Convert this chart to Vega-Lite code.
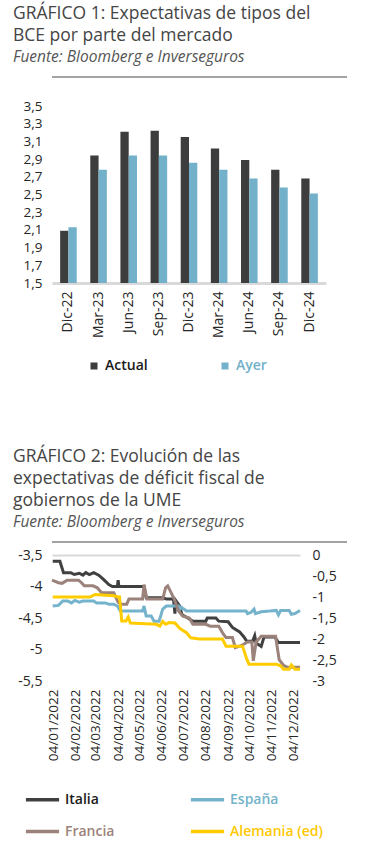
{
  "$schema": "https://vega.github.io/schema/vega-lite/v6.json",
  "padding": {"left": 2, "top": 5, "right": 0, "bottom": 0},
  "background": "white",
  "config": {
    "font": "Open Sans",
    "view": {"stroke": null},
    "axis": {"labelColor": "#262626", "labelFont": "Open Sans", "labelFontSize": 13.5},
    "legend": {"labelFont": "Open Sans"},
    "title": {"font": "Open Sans", "color": "#454545", "fontSize": 17.5, "fontWeight": 500, "lineHeight": 22, "anchor": "start", "subtitleFont": "Open Sans", "subtitleFontSize": 15.5, "subtitleFontStyle": "italic", "subtitleColor": "#555555", "subtitlePadding": 5}
  },
  "spacing": 75,
  "resolve": {"scale": {"color": "independent", "x": "independent", "y": "independent"}, "legend": {"color": "independent"}},
  "vconcat": [
    {
      "spacing": 21,
      "resolve": {"scale": {"color": "independent", "x": "independent", "y": "independent"}},
      "vconcat": [
        {
          "title": {"text": ["GRÁFICO 1: Expectativas de tipos del", "BCE por parte del mercado"], "subtitle": "Fuente: Bloomberg e Inverseguros", "dx": -39, "offset": 11},
          "width": 295,
          "height": 2,
          "data": {"values": [{"desde": 0, "hasta": 1}]},
          "mark": {"type": "rect", "color": "#a3a3a3"},
          "encoding": {
            "x": {"field": "desde", "type": "quantitative", "scale": {"domain": [0, 1]}, "axis": null},
            "x2": {"field": "hasta"}
          }
        },
        {
          "width": 274,
          "height": 177,
          "data": {"values": [
            {"periodo": "Dic-22", "serie": "Actual", "valor": 2.09},
            {"periodo": "Dic-22", "serie": "Ayer", "valor": 2.13},
            {"periodo": "Mar-23", "serie": "Actual", "valor": 2.94},
            {"periodo": "Mar-23", "serie": "Ayer", "valor": 2.78},
            {"periodo": "Jun-23", "serie": "Actual", "valor": 3.21},
            {"periodo": "Jun-23", "serie": "Ayer", "valor": 2.94},
            {"periodo": "Sep-23", "serie": "Actual", "valor": 3.22},
            {"periodo": "Sep-23", "serie": "Ayer", "valor": 2.94},
            {"periodo": "Dic-23", "serie": "Actual", "valor": 3.15},
            {"periodo": "Dic-23", "serie": "Ayer", "valor": 2.86},
            {"periodo": "Mar-24", "serie": "Actual", "valor": 3.02},
            {"periodo": "Mar-24", "serie": "Ayer", "valor": 2.78},
            {"periodo": "Jun-24", "serie": "Actual", "valor": 2.89},
            {"periodo": "Jun-24", "serie": "Ayer", "valor": 2.68},
            {"periodo": "Sep-24", "serie": "Actual", "valor": 2.78},
            {"periodo": "Sep-24", "serie": "Ayer", "valor": 2.58},
            {"periodo": "Dic-24", "serie": "Actual", "valor": 2.68},
            {"periodo": "Dic-24", "serie": "Ayer", "valor": 2.51}
          ]},
          "mark": {"type": "bar"},
          "encoding": {
            "x": {"field": "periodo", "type": "nominal", "sort": ["Dic-22", "Mar-23", "Jun-23", "Sep-23", "Dic-23", "Mar-24", "Jun-24", "Sep-24", "Dic-24"], "scale": {"paddingInner": 0.45, "paddingOuter": 0.27}, "axis": {"title": null, "labelAngle": -90, "ticks": false, "domainColor": "#d9d9d9", "domainWidth": 3, "labelPadding": 8, "labelFontSize": 14}},
            "xOffset": {"field": "serie", "type": "nominal", "sort": ["Actual", "Ayer"]},
            "y": {"field": "valor", "type": "quantitative", "scale": {"domain": [1.5, 3.5], "zero": false, "nice": false}, "axis": {"title": null, "values": [1.5, 1.7, 1.9, 2.1, 2.3, 2.5, 2.7, 2.9, 3.1, 3.3, 3.5], "labelExpr": "replace(format(datum.value, '.1f'), '.', ',')", "labelOverlap": false, "domain": false, "ticks": false, "grid": false, "labelPadding": 10, "minExtent": 47}},
            "y2": {"datum": 1.5},
            "color": {"field": "serie", "type": "nominal", "scale": {"domain": ["Actual", "Ayer"], "range": ["#3d3d3d", "#72b1c9"]}, "legend": {"orient": "none", "legendX": 35, "legendY": 253, "title": null, "direction": "horizontal", "symbolType": "square", "symbolSize": 49, "labelFontSize": 14, "labelFontWeight": 600, "labelOffset": 4, "columnPadding": 70, "labelColor": {"expr": "datum.label === 'Ayer' ? '#72b1c9' : '#1a1a1a'"}}}
          }
        }
      ]
    },
    {
      "spacing": 5,
      "resolve": {"scale": {"color": "independent", "x": "independent", "y": "independent"}},
      "vconcat": [
        {
          "title": {"text": ["GRÁFICO 2: Evolución de las", "expectativas de déficit fiscal de", "gobiernos de la UME"], "subtitle": "Fuente: Bloomberg e Inverseguros", "dx": -39, "offset": 11},
          "width": 295,
          "height": 2,
          "data": {"values": [{"desde": 0, "hasta": 1}]},
          "mark": {"type": "rect", "color": "#a3a3a3"},
          "encoding": {
            "x": {"field": "desde", "type": "quantitative", "scale": {"domain": [0, 1]}, "axis": null},
            "x2": {"field": "hasta"}
          }
        },
        {
          "width": 248,
          "height": 126,
          "encoding": {
            "x": {"field": "fecha", "type": "temporal", "axis": {"title": null, "values": [
              {"year": 2022, "month": 1, "date": 4}, {"year": 2022, "month": 2, "date": 4}, {"year": 2022, "month": 3, "date": 4}, {"year": 2022, "month": 4, "date": 4},
              {"year": 2022, "month": 5, "date": 4}, {"year": 2022, "month": 6, "date": 4}, {"year": 2022, "month": 7, "date": 4}, {"year": 2022, "month": 8, "date": 4},
              {"year": 2022, "month": 9, "date": 4}, {"year": 2022, "month": 10, "date": 4}, {"year": 2022, "month": 11, "date": 4}, {"year": 2022, "month": 12, "date": 4}],
              "format": "%d/%m/%Y", "labelAngle": -90, "labelOverlap": false, "ticks": false, "domain": false, "grid": false, "labelPadding": 8, "labelFontSize": 13.5}}
          },
          "resolve": {"scale": {"y": "independent"}, "axis": {"y": "independent"}},
          "layer": [
            {
              "data": {"values": [
                {"fecha": "2022-01-03", "pais": "Italia", "valor": -3.60},
                {"fecha": "2022-01-13", "pais": "Italia", "valor": -3.60},
                {"fecha": "2022-01-18", "pais": "Italia", "valor": -3.78},
                {"fecha": "2022-01-28", "pais": "Italia", "valor": -3.78},
                {"fecha": "2022-02-02", "pais": "Italia", "valor": -3.81},
                {"fecha": "2022-02-09", "pais": "Italia", "valor": -3.79},
                {"fecha": "2022-02-14", "pais": "Italia", "valor": -3.82},
                {"fecha": "2022-02-18", "pais": "Italia", "valor": -3.78},
                {"fecha": "2022-02-23", "pais": "Italia", "valor": -3.81},
                {"fecha": "2022-03-01", "pais": "Italia", "valor": -3.78},
                {"fecha": "2022-03-08", "pais": "Italia", "valor": -3.82},
                {"fecha": "2022-03-15", "pais": "Italia", "valor": -3.89},
                {"fecha": "2022-03-22", "pais": "Italia", "valor": -3.97},
                {"fecha": "2022-03-27", "pais": "Italia", "valor": -4.00},
                {"fecha": "2022-04-03", "pais": "Italia", "valor": -4.00},
                {"fecha": "2022-04-04", "pais": "Italia", "valor": -3.90},
                {"fecha": "2022-04-05", "pais": "Italia", "valor": -4.00},
                {"fecha": "2022-05-10", "pais": "Italia", "valor": -4.00},
                {"fecha": "2022-05-13", "pais": "Italia", "valor": -4.18},
                {"fecha": "2022-06-06", "pais": "Italia", "valor": -4.18},
                {"fecha": "2022-06-10", "pais": "Italia", "valor": -4.20},
                {"fecha": "2022-06-20", "pais": "Italia", "valor": -4.20},
                {"fecha": "2022-06-22", "pais": "Italia", "valor": -4.43},
                {"fecha": "2022-06-23", "pais": "Italia", "valor": -4.22},
                {"fecha": "2022-06-28", "pais": "Italia", "valor": -4.30},
                {"fecha": "2022-07-02", "pais": "Italia", "valor": -4.45},
                {"fecha": "2022-07-10", "pais": "Italia", "valor": -4.50},
                {"fecha": "2022-07-17", "pais": "Italia", "valor": -4.55},
                {"fecha": "2022-08-04", "pais": "Italia", "valor": -4.55},
                {"fecha": "2022-08-06", "pais": "Italia", "valor": -4.50},
                {"fecha": "2022-08-18", "pais": "Italia", "valor": -4.50},
                {"fecha": "2022-08-22", "pais": "Italia", "valor": -4.55},
                {"fecha": "2022-09-04", "pais": "Italia", "valor": -4.56},
                {"fecha": "2022-09-10", "pais": "Italia", "valor": -4.65},
                {"fecha": "2022-09-20", "pais": "Italia", "valor": -4.72},
                {"fecha": "2022-09-26", "pais": "Italia", "valor": -4.80},
                {"fecha": "2022-09-30", "pais": "Italia", "valor": -4.87},
                {"fecha": "2022-10-08", "pais": "Italia", "valor": -4.87},
                {"fecha": "2022-10-11", "pais": "Italia", "valor": -4.78},
                {"fecha": "2022-10-13", "pais": "Italia", "valor": -4.90},
                {"fecha": "2022-10-20", "pais": "Italia", "valor": -4.95},
                {"fecha": "2022-10-24", "pais": "Italia", "valor": -4.80},
                {"fecha": "2022-11-08", "pais": "Italia", "valor": -4.80},
                {"fecha": "2022-11-13", "pais": "Italia", "valor": -4.89},
                {"fecha": "2022-12-13", "pais": "Italia", "valor": -4.89},
                {"fecha": "2022-01-03", "pais": "España", "valor": -4.31},
                {"fecha": "2022-01-11", "pais": "España", "valor": -4.30},
                {"fecha": "2022-01-17", "pais": "España", "valor": -4.23},
                {"fecha": "2022-01-24", "pais": "España", "valor": -4.23},
                {"fecha": "2022-01-29", "pais": "España", "valor": -4.26},
                {"fecha": "2022-02-03", "pais": "España", "valor": -4.22},
                {"fecha": "2022-02-09", "pais": "España", "valor": -4.25},
                {"fecha": "2022-02-14", "pais": "España", "valor": -4.23},
                {"fecha": "2022-03-01", "pais": "España", "valor": -4.23},
                {"fecha": "2022-03-05", "pais": "España", "valor": -4.26},
                {"fecha": "2022-03-17", "pais": "España", "valor": -4.26},
                {"fecha": "2022-03-22", "pais": "España", "valor": -4.28},
                {"fecha": "2022-03-29", "pais": "España", "valor": -4.28},
                {"fecha": "2022-04-03", "pais": "España", "valor": -4.31},
                {"fecha": "2022-04-07", "pais": "España", "valor": -4.39},
                {"fecha": "2022-05-08", "pais": "España", "valor": -4.39},
                {"fecha": "2022-05-10", "pais": "España", "valor": -4.31},
                {"fecha": "2022-05-13", "pais": "España", "valor": -4.47},
                {"fecha": "2022-05-20", "pais": "España", "valor": -4.47},
                {"fecha": "2022-05-24", "pais": "España", "valor": -4.55},
                {"fecha": "2022-05-31", "pais": "España", "valor": -4.55},
                {"fecha": "2022-06-05", "pais": "España", "valor": -4.36},
                {"fecha": "2022-06-10", "pais": "España", "valor": -4.31},
                {"fecha": "2022-06-27", "pais": "España", "valor": -4.31},
                {"fecha": "2022-06-29", "pais": "España", "valor": -4.36},
                {"fecha": "2022-07-01", "pais": "España", "valor": -4.33},
                {"fecha": "2022-07-08", "pais": "España", "valor": -4.39},
                {"fecha": "2022-09-29", "pais": "España", "valor": -4.39},
                {"fecha": "2022-10-01", "pais": "España", "valor": -4.43},
                {"fecha": "2022-10-06", "pais": "España", "valor": -4.41},
                {"fecha": "2022-10-10", "pais": "España", "valor": -4.36},
                {"fecha": "2022-10-12", "pais": "España", "valor": -4.43},
                {"fecha": "2022-10-20", "pais": "España", "valor": -4.40},
                {"fecha": "2022-11-01", "pais": "España", "valor": -4.39},
                {"fecha": "2022-11-10", "pais": "España", "valor": -4.38},
                {"fecha": "2022-11-13", "pais": "España", "valor": -4.45},
                {"fecha": "2022-11-16", "pais": "España", "valor": -4.38},
                {"fecha": "2022-11-28", "pais": "España", "valor": -4.38},
                {"fecha": "2022-12-01", "pais": "España", "valor": -4.44},
                {"fecha": "2022-12-06", "pais": "España", "valor": -4.43},
                {"fecha": "2022-12-13", "pais": "España", "valor": -4.38},
                {"fecha": "2022-01-02", "pais": "Francia", "valor": -3.90},
                {"fecha": "2022-01-11", "pais": "Francia", "valor": -3.94},
                {"fecha": "2022-01-16", "pais": "Francia", "valor": -3.95},
                {"fecha": "2022-01-23", "pais": "Francia", "valor": -3.90},
                {"fecha": "2022-02-08", "pais": "Francia", "valor": -3.90},
                {"fecha": "2022-02-12", "pais": "Francia", "valor": -3.94},
                {"fecha": "2022-02-16", "pais": "Francia", "valor": -3.99},
                {"fecha": "2022-02-28", "pais": "Francia", "valor": -3.99},
                {"fecha": "2022-03-06", "pais": "Francia", "valor": -4.02},
                {"fecha": "2022-03-12", "pais": "Francia", "valor": -4.10},
                {"fecha": "2022-03-29", "pais": "Francia", "valor": -4.10},
                {"fecha": "2022-04-04", "pais": "Francia", "valor": -4.25},
                {"fecha": "2022-04-08", "pais": "Francia", "valor": -4.28},
                {"fecha": "2022-04-16", "pais": "Francia", "valor": -4.28},
                {"fecha": "2022-04-19", "pais": "Francia", "valor": -4.20},
                {"fecha": "2022-05-08", "pais": "Francia", "valor": -4.20},
                {"fecha": "2022-05-10", "pais": "Francia", "valor": -3.97},
                {"fecha": "2022-05-14", "pais": "Francia", "valor": -4.20},
                {"fecha": "2022-06-05", "pais": "Francia", "valor": -4.20},
                {"fecha": "2022-06-09", "pais": "Francia", "valor": -4.02},
                {"fecha": "2022-06-12", "pais": "Francia", "valor": -3.99},
                {"fecha": "2022-06-16", "pais": "Francia", "valor": -4.08},
                {"fecha": "2022-06-21", "pais": "Francia", "valor": -4.20},
                {"fecha": "2022-06-27", "pais": "Francia", "valor": -4.39},
                {"fecha": "2022-07-03", "pais": "Francia", "valor": -4.47},
                {"fecha": "2022-07-12", "pais": "Francia", "valor": -4.50},
                {"fecha": "2022-07-17", "pais": "Francia", "valor": -4.60},
                {"fecha": "2022-08-04", "pais": "Francia", "valor": -4.60},
                {"fecha": "2022-08-10", "pais": "Francia", "valor": -4.63},
                {"fecha": "2022-08-22", "pais": "Francia", "valor": -4.63},
                {"fecha": "2022-08-28", "pais": "Francia", "valor": -4.75},
                {"fecha": "2022-09-01", "pais": "Francia", "valor": -4.81},
                {"fecha": "2022-09-10", "pais": "Francia", "valor": -4.81},
                {"fecha": "2022-09-14", "pais": "Francia", "valor": -4.97},
                {"fecha": "2022-09-22", "pais": "Francia", "valor": -4.94},
                {"fecha": "2022-10-01", "pais": "Francia", "valor": -4.88},
                {"fecha": "2022-10-07", "pais": "Francia", "valor": -4.88},
                {"fecha": "2022-10-09", "pais": "Francia", "valor": -5.18},
                {"fecha": "2022-10-13", "pais": "Francia", "valor": -4.88},
                {"fecha": "2022-10-20", "pais": "Francia", "valor": -4.79},
                {"fecha": "2022-11-09", "pais": "Francia", "valor": -4.79},
                {"fecha": "2022-11-14", "pais": "Francia", "valor": -5.16},
                {"fecha": "2022-11-20", "pais": "Francia", "valor": -5.25},
                {"fecha": "2022-11-25", "pais": "Francia", "valor": -5.28},
                {"fecha": "2022-12-13", "pais": "Francia", "valor": -5.28}
              ]},
              "mark": {"type": "line", "strokeWidth": 3},
              "encoding": {
                "y": {"field": "valor", "type": "quantitative", "scale": {"domain": [-5.5, -3.5], "nice": false, "zero": false}, "axis": {"orient": "left", "title": null, "values": [-3.5, -4, -4.5, -5, -5.5], "labelExpr": "replace(toString(datum.value), '.', ',')", "labelOverlap": false, "domain": false, "ticks": false, "grid": true, "gridWidth": 2, "gridColor": {"condition": {"test": "datum.value === -3.5", "value": "#d9d9d9"}, "value": "transparent"}, "labelPadding": 10, "labelFontSize": 14, "minExtent": 50}},
                "color": {"field": "pais", "type": "nominal", "scale": {"domain": ["Italia", "España", "Francia", "Alemania (ed)"], "range": ["#404040", "#74b3cb", "#9b827a", "#ffcc00"]}, "legend": {"orient": "none", "legendX": -28, "legendY": 226, "title": null, "direction": "horizontal", "columns": 2, "symbolType": "stroke", "symbolSize": 1100, "symbolStrokeWidth": 3.5, "labelFontSize": 14, "labelFontWeight": 600, "labelOffset": 4, "columnPadding": 68, "rowPadding": 6, "labelColor": {"expr": "datum.label === 'España' ? '#74b3cb' : datum.label === 'Francia' ? '#9b827a' : datum.label === 'Alemania (ed)' ? '#ffc800' : '#1a1a1a'"}}}
              }
            },
            {
              "data": {"values": [
                {"fecha": "2022-01-03", "pais": "Alemania (ed)", "valor": -1.00},
                {"fecha": "2022-02-24", "pais": "Alemania (ed)", "valor": -1.00},
                {"fecha": "2022-03-03", "pais": "Alemania (ed)", "valor": -0.94},
                {"fecha": "2022-03-29", "pais": "Alemania (ed)", "valor": -0.97},
                {"fecha": "2022-04-04", "pais": "Alemania (ed)", "valor": -1.00},
                {"fecha": "2022-04-06", "pais": "Alemania (ed)", "valor": -1.00},
                {"fecha": "2022-04-09", "pais": "Alemania (ed)", "valor": -1.57},
                {"fecha": "2022-04-15", "pais": "Alemania (ed)", "valor": -1.57},
                {"fecha": "2022-04-18", "pais": "Alemania (ed)", "valor": -1.48},
                {"fecha": "2022-04-21", "pais": "Alemania (ed)", "valor": -1.62},
                {"fecha": "2022-05-27", "pais": "Alemania (ed)", "valor": -1.65},
                {"fecha": "2022-06-01", "pais": "Alemania (ed)", "valor": -1.69},
                {"fecha": "2022-06-05", "pais": "Alemania (ed)", "valor": -1.58},
                {"fecha": "2022-06-09", "pais": "Alemania (ed)", "valor": -1.65},
                {"fecha": "2022-06-14", "pais": "Alemania (ed)", "valor": -1.61},
                {"fecha": "2022-06-22", "pais": "Alemania (ed)", "valor": -1.62},
                {"fecha": "2022-06-29", "pais": "Alemania (ed)", "valor": -1.75},
                {"fecha": "2022-07-08", "pais": "Alemania (ed)", "valor": -1.85},
                {"fecha": "2022-07-14", "pais": "Alemania (ed)", "valor": -1.97},
                {"fecha": "2022-07-26", "pais": "Alemania (ed)", "valor": -2.00},
                {"fecha": "2022-08-27", "pais": "Alemania (ed)", "valor": -2.00},
                {"fecha": "2022-08-31", "pais": "Alemania (ed)", "valor": -2.13},
                {"fecha": "2022-09-01", "pais": "Alemania (ed)", "valor": -2.17},
                {"fecha": "2022-09-24", "pais": "Alemania (ed)", "valor": -2.17},
                {"fecha": "2022-09-30", "pais": "Alemania (ed)", "valor": -2.48},
                {"fecha": "2022-10-03", "pais": "Alemania (ed)", "valor": -2.60},
                {"fecha": "2022-11-10", "pais": "Alemania (ed)", "valor": -2.60},
                {"fecha": "2022-11-16", "pais": "Alemania (ed)", "valor": -2.64},
                {"fecha": "2022-11-20", "pais": "Alemania (ed)", "valor": -2.72},
                {"fecha": "2022-11-28", "pais": "Alemania (ed)", "valor": -2.72},
                {"fecha": "2022-12-01", "pais": "Alemania (ed)", "valor": -2.62},
                {"fecha": "2022-12-06", "pais": "Alemania (ed)", "valor": -2.72},
                {"fecha": "2022-12-13", "pais": "Alemania (ed)", "valor": -2.72}
              ]},
              "mark": {"type": "line", "strokeWidth": 3},
              "encoding": {
                "y": {"field": "valor", "type": "quantitative", "scale": {"domain": [-3, 0], "nice": false, "zero": false}, "axis": {"orient": "right", "title": null, "values": [0, -0.5, -1, -1.5, -2, -2.5, -3], "labelExpr": "replace(toString(datum.value), '.', ',')", "labelOverlap": false, "domain": false, "ticks": false, "grid": false, "labelPadding": 12, "labelFontSize": 14}},
                "color": {"field": "pais", "type": "nominal"}
              }
            }
          ]
        }
      ]
    }
  ]
}
